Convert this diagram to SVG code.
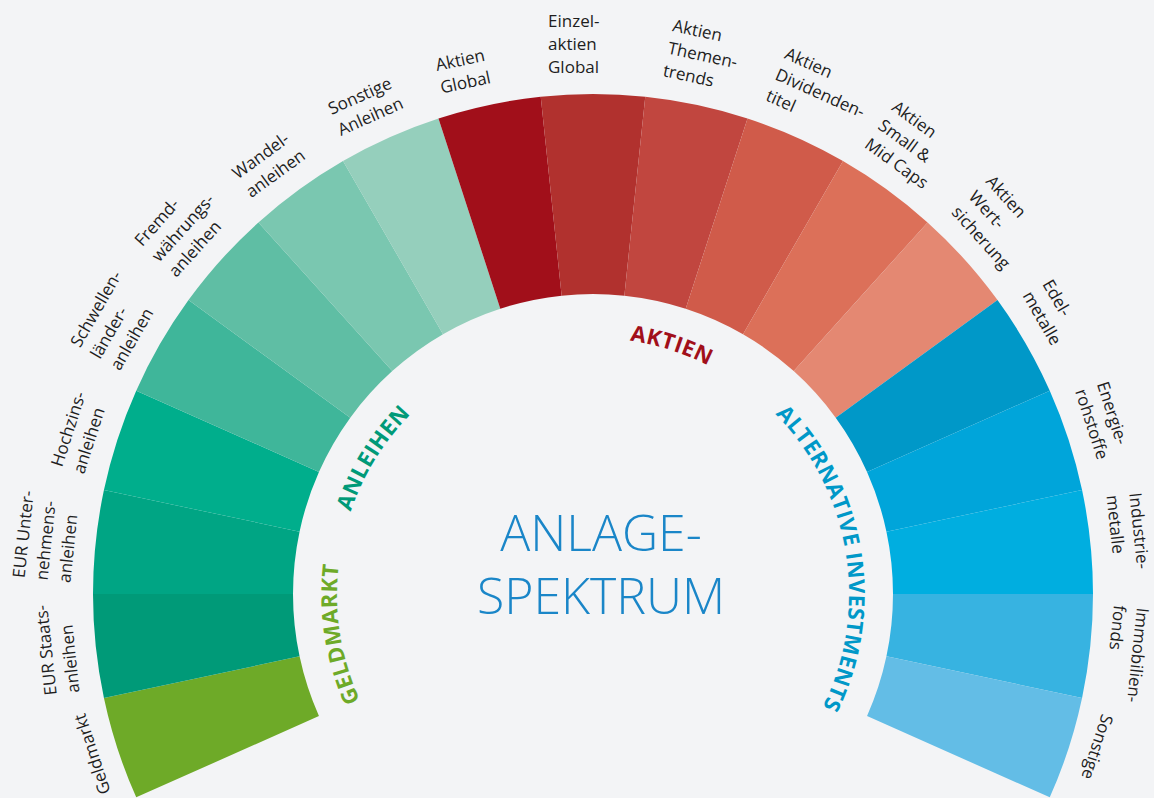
<svg xmlns="http://www.w3.org/2000/svg" xmlns:xlink="http://www.w3.org/1999/xlink" width="1154" height="798" viewBox="0 0 1154 798">
<style>
.lbl{font-family:"Open Sans","Noto Sans",sans-serif;font-size:17px;fill:#1e1e1e}
.cat{font-family:"Open Sans","Noto Sans",sans-serif;font-size:22px;font-weight:700;letter-spacing:0.5px}
.ctr{font-family:"Open Sans","Noto Sans",sans-serif;font-size:50px;font-weight:300;fill:#1a86c8;text-anchor:middle}
</style>
<defs>
<path id="arc" d="M411.98,775.02 A256,256 0 1 1 774.02,775.02" fill="none"/>
</defs>
<rect width="1154" height="798" fill="#f3f4f6"/>
<g id="segments">
<g id="seg-geldmarkt"><path fill="#6eaa28" d="M136.23,797.37 A500,500 0 0 1 103.93,697.96 L299.56,656.37 A300,300 0 0 0 318.94,716.02 Z"/></g>
<g id="seg-eur-staats"><path fill="#009a78" d="M103.93,697.96 A500,500 0 0 1 93,594 L293,594 A300,300 0 0 0 299.56,656.37 Z"/></g>
<g id="seg-eur-unternehmens"><path fill="#00a584" d="M93,594 A500,500 0 0 1 103.93,490.04 L299.56,531.63 A300,300 0 0 0 293,594 Z"/></g>
<g id="seg-hochzins"><path fill="#00ae8c" d="M103.93,490.04 A500,500 0 0 1 136.23,390.63 L318.94,471.98 A300,300 0 0 0 299.56,531.63 Z"/></g>
<g id="seg-schwellen"><path fill="#3fb69a" d="M136.23,390.63 A500,500 0 0 1 188.49,300.11 L350.29,417.66 A300,300 0 0 0 318.94,471.98 Z"/></g>
<g id="seg-fremd"><path fill="#5fbea4" d="M188.49,300.11 A500,500 0 0 1 258.43,222.43 L392.26,371.06 A300,300 0 0 0 350.29,417.66 Z"/></g>
<g id="seg-wandel"><path fill="#7ac7b0" d="M258.43,222.43 A500,500 0 0 1 343,160.99 L443,334.19 A300,300 0 0 0 392.26,371.06 Z"/></g>
<g id="seg-sonstige-anleihen"><path fill="#95cfbc" d="M343,160.99 A500,500 0 0 1 438.49,118.47 L500.29,308.68 A300,300 0 0 0 443,334.19 Z"/></g>
<g id="seg-aktien-global"><path fill="#a10f1a" d="M438.49,118.47 A500,500 0 0 1 540.74,96.74 L561.64,295.64 A300,300 0 0 0 500.29,308.68 Z"/></g>
<g id="seg-einzelaktien"><path fill="#b1312e" d="M540.74,96.74 A500,500 0 0 1 645.26,96.74 L624.36,295.64 A300,300 0 0 0 561.64,295.64 Z"/></g>
<g id="seg-themen"><path fill="#c1463f" d="M645.26,96.74 A500,500 0 0 1 747.51,118.47 L685.71,308.68 A300,300 0 0 0 624.36,295.64 Z"/></g>
<g id="seg-dividenden"><path fill="#d05b4a" d="M747.51,118.47 A500,500 0 0 1 843,160.99 L743,334.19 A300,300 0 0 0 685.71,308.68 Z"/></g>
<g id="seg-smallmid"><path fill="#dc7059" d="M843,160.99 A500,500 0 0 1 927.57,222.43 L793.74,371.06 A300,300 0 0 0 743,334.19 Z"/></g>
<g id="seg-wertsicherung"><path fill="#e48872" d="M927.57,222.43 A500,500 0 0 1 997.51,300.11 L835.71,417.66 A300,300 0 0 0 793.74,371.06 Z"/></g>
<g id="seg-edelmetalle"><path fill="#0098c8" d="M997.51,300.11 A500,500 0 0 1 1049.77,390.63 L867.06,471.98 A300,300 0 0 0 835.71,417.66 Z"/></g>
<g id="seg-energie"><path fill="#00a5da" d="M1049.77,390.63 A500,500 0 0 1 1082.07,490.04 L886.44,531.63 A300,300 0 0 0 867.06,471.98 Z"/></g>
<g id="seg-industrie"><path fill="#00aee0" d="M1082.07,490.04 A500,500 0 0 1 1093,594 L893,594 A300,300 0 0 0 886.44,531.63 Z"/></g>
<g id="seg-immobilien"><path fill="#37b3e1" d="M1093,594 A500,500 0 0 1 1082.07,697.96 L886.44,656.37 A300,300 0 0 0 893,594 Z"/></g>
<g id="seg-sonstige"><path fill="#63bde6" d="M1082.07,697.96 A500,500 0 0 1 1049.77,797.37 L867.06,716.02 A300,300 0 0 0 886.44,656.37 Z"/></g>
</g>
<g id="labels" class="lbl">
<text transform="translate(98.5 754) rotate(-108)"><tspan x="-40" y="0">Geldmarkt</tspan></text>
<text transform="translate(74.9 648.5) rotate(-96)"><tspan x="-44" y="-23">EUR Staats-</tspan><tspan x="-44" y="0">anleihen</tspan></text>
<text transform="translate(74.9 539.5) rotate(-84)"><tspan x="-44" y="-46">EUR Unter-</tspan><tspan x="-44" y="-23">nehmens-</tspan><tspan x="-44" y="0">anleihen</tspan></text>
<text transform="translate(97.5 433) rotate(-72)"><tspan x="-44" y="-23">Hochzins-</tspan><tspan x="-44" y="0">anleihen</tspan></text>
<text transform="translate(141.8 333.5) rotate(-60)"><tspan x="-44" y="-46">Schwellen-</tspan><tspan x="-44" y="-23">länder-</tspan><tspan x="-44" y="0">anleihen</tspan></text>
<text transform="translate(205.8 245.4) rotate(-48)"><tspan x="-44" y="-46">Fremd-</tspan><tspan x="-44" y="-23">währungs-</tspan><tspan x="-44" y="0">anleihen</tspan></text>
<text transform="translate(286.8 172.5) rotate(-36)"><tspan x="-44" y="-23">Wandel-</tspan><tspan x="-44" y="0">anleihen</tspan></text>
<text transform="translate(381.1 118) rotate(-24)"><tspan x="-44" y="-23">Sonstige</tspan><tspan x="-44" y="0">Anleihen</tspan></text>
<text transform="translate(484.7 84.4) rotate(-12)"><tspan x="-44" y="-23">Aktien</tspan><tspan x="-44" y="0">Global</tspan></text>
<text transform="translate(593 73) rotate(0)"><tspan x="-45" y="-46">Einzel-</tspan><tspan x="-45" y="-23">aktien</tspan><tspan x="-45" y="0">Global</tspan></text>
<text transform="translate(701.3 84.4) rotate(12)"><tspan x="-40" y="-46">Aktien</tspan><tspan x="-40" y="-23">Themen-</tspan><tspan x="-40" y="0">trends</tspan></text>
<text transform="translate(804.9 118) rotate(24)"><tspan x="-44" y="-46">Aktien</tspan><tspan x="-44" y="-23">Dividenden-</tspan><tspan x="-44" y="0">titel</tspan></text>
<text transform="translate(899.2 172.5) rotate(36)"><tspan x="-44" y="-46">Aktien</tspan><tspan x="-44" y="-23">Small &amp;</tspan><tspan x="-44" y="0">Mid Caps</tspan></text>
<text transform="translate(980.2 245.4) rotate(48)"><tspan x="-44" y="-46">Aktien</tspan><tspan x="-44" y="-23">Wert-</tspan><tspan x="-44" y="0">sicherung</tspan></text>
<text transform="translate(1044.2 333.5) rotate(60)"><tspan x="-44" y="-23">Edel-</tspan><tspan x="-44" y="0">metalle</tspan></text>
<text transform="translate(1088.5 433) rotate(72)"><tspan x="-44" y="-23">Energie-</tspan><tspan x="-44" y="0">rohstoffe</tspan></text>
<text transform="translate(1111.1 539.5) rotate(84)"><tspan x="-44" y="-23">Industrie-</tspan><tspan x="-44" y="0">metalle</tspan></text>
<text transform="translate(1109.5 648.5) rotate(96)"><tspan x="-44" y="-23">Immobilien-</tspan><tspan x="-44" y="0">fonds</tspan></text>
<text transform="translate(1088.5 755) rotate(108)"><tspan x="-44" y="0">Sonstige</tspan></text>
</g>
<g id="categories" class="cat">
<text fill="#6eaa28" text-anchor="middle"><textPath xlink:href="#arc" href="#arc" startOffset="160.8">GELDMARKT</textPath></text>
<text fill="#009a78" text-anchor="middle"><textPath xlink:href="#arc" href="#arc" startOffset="342.7">ANLEIHEN</textPath></text>
<text fill="#a10f1a" text-anchor="middle"><textPath xlink:href="#arc" href="#arc" startOffset="681.4">AKTIEN</textPath></text>
<text fill="#0098c8" text-anchor="middle"><textPath xlink:href="#arc" href="#arc" startOffset="964">ALTERNATIVE INVESTMENTS</textPath></text>
</g>
<g id="center">
<text class="ctr" x="601" y="551">ANLAGE-</text>
<text class="ctr" x="601" y="614">SPEKTRUM</text>
</g>
</svg>
